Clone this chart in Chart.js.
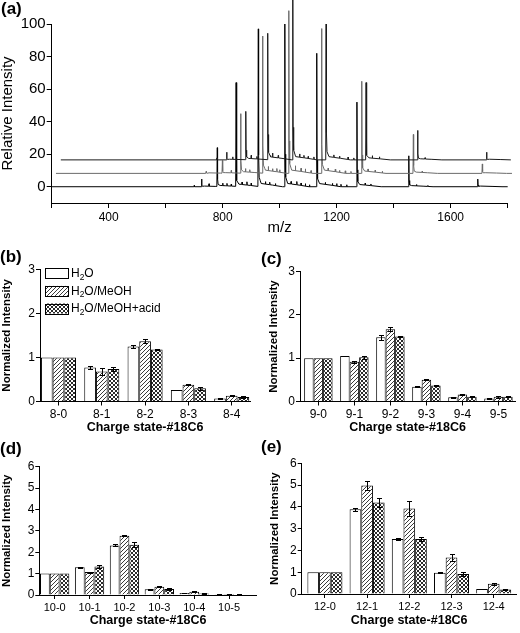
<!DOCTYPE html>
<html><head><meta charset="utf-8">
<script src="https://cdn.jsdelivr.net/npm/chart.js@4.4.1/dist/chart.umd.min.js"></script>
<style>
html,body{margin:0;padding:0;background:#fff;}
body{width:520px;height:633px;position:relative;overflow:hidden;font-family:'Liberation Sans',Arial,sans-serif;}
canvas{position:absolute;}
.pl{position:absolute;font-weight:bold;font-size:17px;line-height:17px;color:#000;font-family:'Liberation Sans',Arial,sans-serif;}
</style></head><body>
<canvas id="ca" width="520" height="240" style="left:0;top:0"></canvas>
<canvas id="cb" width="260" height="202" style="left:0;top:235px"></canvas>
<canvas id="cc" width="260" height="202" style="left:260px;top:235px"></canvas>
<canvas id="cd" width="260" height="196" style="left:0;top:437px"></canvas>
<canvas id="ce" width="260" height="196" style="left:260px;top:437px"></canvas>
<div class="pl" style="left:1px;top:0">(a)</div>
<div class="pl" style="left:0;top:248px">(b)</div>
<div class="pl" style="left:261px;top:250px">(c)</div>
<div class="pl" style="left:0;top:440px">(d)</div>
<div class="pl" style="left:261px;top:438px">(e)</div>
<script>
// ---------- panel (a) data : mass spectra ----------
const mzTicks = [200,400,600,800,1000,1200,1400,1600,1800];
const mzLabeled = [400,800,1200,1600];
const relTicks = [0,20,40,60,80,100];

const bottomSpan = [200,1800];
const bottomOffset = 0;
const bottomPeakMz = [726,781,847,925,1018,1130,1271,1453,1695];
const bottomPeakInt = [4.7,24,64,97,100,82,52,19,4.7];
const bottomMinorMz = [700,752,800,815,830,868,885,900,950,965,985,1040,1060,1075,1090,1105,1160,1185,1200,1215,1235,1300,1320,1480,1520];
const bottomMinorInt = [0.8,1.5,1.5,1.5,1.2,1.5,2,1.5,1.5,1.5,1.2,1.5,2,1.5,1.5,1.2,1.2,1.2,1.5,1.5,1.2,1.2,1.0,0.8,0.6];

const middleSpan = [215,1815];
const middleOffset = 8.2;
const middlePeakMz = [742,799,863,940,1032,1147,1288,1469,1711];
const middlePeakInt = [1.2,7.8,36.7,84.4,100,89,56.6,23.9,5.8];
const middleMinorMz = [830,880,895,960,975,990,1000,1055,1075,1090,1110,1170,1195,1210,1230,1250,1310,1335,1360,1500];
const middleMinorInt = [1.5,2,1.5,2.5,1.5,2,1.5,3,2,2,1.5,1.5,1.5,1.2,1.5,1.2,1.5,1.2,1,0.8];

const topSpan = [232,1831];
const topOffset = 16.5;
const topPeakMz = [814,881,958,1046,1163,1303,1484,1726];
const topPeakInt = [4.7,29.8,77.8,100,83.5,47.5,18.1,4.7];
const topMinorMz = [780,835,900,920,975,995,1070,1085,1100,1120,1190,1210,1240,1260,1325,1350,1510];
const topMinorInt = [1.2,1.5,2,1.5,2.5,1.5,2,1.5,1.2,1.5,1.5,1.2,1.5,1.2,1.5,1.2,0.8];

// ---------- panels (b)-(e) data ----------
const seriesLabels = ['H\u2082O','H\u2082O/MeOH','H\u2082O/MeOH+acid'];

const catsB = ['8-0','8-1','8-2','8-3','8-4'];
const h2oB  = [1,0.77,1.25,0.26,0.07];
const meohB = [1,0.68,1.37,0.38,0.13];
const acidB = [1,0.74,1.18,0.30,0.10];
const h2oErrB  = [0,0.03,0.03,0.01,0.005];
const meohErrB = [0,0.07,0.05,0.01,0.01];
const acidErrB = [0,0.05,0.02,0.04,0.015];

const catsC = ['9-0','9-1','9-2','9-3','9-4','9-5'];
const h2oC  = [1,1.05,1.48,0.34,0.10,0.07];
const meohC = [1,0.92,1.67,0.50,0.16,0.11];
const acidC = [1,1.02,1.50,0.37,0.11,0.11];
const h2oErrC  = [0,0.01,0.05,0.01,0.01,0.01];
const meohErrC = [0,0.02,0.04,0.01,0.01,0.02];
const acidErrC = [0,0.04,0.02,0.01,0.01,0.01];

const catsD = ['10-0','10-1','10-2','10-3','10-4','10-5'];
const h2oD  = [1,1.30,2.32,0.27,0.09,0.03];
const meohD = [1,1.07,2.77,0.39,0.15,0.05];
const acidD = [1,1.33,2.35,0.28,0.07,0.02];
const h2oErrD  = [0,0.02,0.05,0.02,0.01,0.005];
const meohErrD = [0,0.02,0.02,0.02,0.02,0.01];
const acidErrD = [0,0.07,0.12,0.05,0.02,0.005];

const catsE = ['12-0','12-1','12-2','12-3','12-4'];
const h2oE  = [1,3.89,2.53,0.97,0.23];
const meohE = [1,4.98,3.93,1.67,0.47];
const acidE = [1,4.20,2.53,0.92,0.21];
const h2oErrE  = [0,0.07,0.06,0.02,0.02];
const meohErrE = [0,0.20,0.33,0.17,0.04];
const acidErrE = [0,0.20,0.08,0.08,0.04];

// ---------- common setup ----------
const FONT = "'Liberation Sans', Arial, sans-serif";
Chart.defaults.font.family = FONT;
Chart.defaults.color = '#000';
Chart.defaults.animation = false;

// peak outline used to render a spectral line of given apex height
function mainShape(d, h) {
  const t = Math.min(2, 0.02*h + 0.3);
  if (d < -1.5 || d > 85) return 0;
  if (d <= 0) return h*(1 + d/1.5);
  if (d <= 1) return h + (0.2*h - h)*d;
  if (d <= 3) return 0.2*h + (0.06*h - 0.2*h)*(d-1)/2;
  if (d <= 10) return 0.06*h + (t - 0.06*h)*(d-3)/7;
  if (d <= 50) return t + (0.5*t - t)*(d-10)/40;
  return 0.5*t*(85-d)/35;
}
function buildTrace(span, offset, mz, inten, minorMz, minorInt) {
  const keys = new Set([span[0], span[1]]);
  mz.forEach(p => [-1.5,0,1,3,10,50,85].forEach(o => keys.add(p+o)));
  minorMz.forEach(p => [-1,0,1].forEach(o => keys.add(p+o)));
  const xs = [...keys].filter(x => x >= span[0] && x <= span[1]).sort((a,b)=>a-b);
  return xs.map(x => {
    let y = 0;
    mz.forEach((p,i) => { y = Math.max(y, mainShape(x-p, inten[i])); });
    minorMz.forEach((p,i) => { const d = Math.abs(x-p); if (d < 1) y += minorInt[i]*(1-d); });
    return {x, y: y + offset};
  });
}

function axisGrid(len) {
  return { display:true, drawOnChartArea:false, drawTicks:true, tickLength:len, tickColor:'#000', tickWidth:1 };
}
const axisBorder = { display:true, color:'#000', width:1 };

// ---------- panel (a) ----------
new Chart(document.getElementById('ca'), {
  type: 'scatter',
  data: { datasets: [
    { data: buildTrace(topSpan, topOffset, topPeakMz, topPeakInt, topMinorMz, topMinorInt), borderColor:'#1a1a1a' },
    { data: buildTrace(middleSpan, middleOffset, middlePeakMz, middlePeakInt, middleMinorMz, middleMinorInt), borderColor:'#6a6a6a' },
    { data: buildTrace(bottomSpan, bottomOffset, bottomPeakMz, bottomPeakInt, bottomMinorMz, bottomMinorInt), borderColor:'#000' }
  ].map(d => Object.assign(d, { showLine:true, pointRadius:0, borderWidth:1, tension:0, clip:false })) },
  options: {
    responsive:false, devicePixelRatio:1,
    layout: { padding: { left:0, right:12.3, top:24, bottom:0 } },
    plugins: { legend:{display:false}, tooltip:{enabled:false} },
    scales: {
      x: { type:'linear', min:200, max:1800,
        afterBuildTicks: s => { s.ticks = mzTicks.map(v => ({value:v})); },
        afterFit: s => { s.height = 37; },
        ticks: { autoSkip:false, maxRotation:0, minRotation:0, padding:2, font:{size:12},
          callback: v => mzLabeled.includes(v) ? String(v) : '' },
        grid: axisGrid(5), border: axisBorder,
        title: { display:true, text:'m/z', font:{size:15}, padding:{top:0, bottom:3} } },
      y: { type:'linear', min:-10, max:100,
        afterBuildTicks: s => { s.ticks = relTicks.map(v => ({value:v})); },
        afterFit: s => { s.width = 51.7; },
        ticks: { padding:1, font:{size:15} },
        grid: axisGrid(5), border: axisBorder,
        title: { display:true, text:'Relative Intensity', font:{size:15, lineHeight:1}, padding:{top:0, bottom:0} } }
    }
  }
});

// ---------- fill patterns ----------
function makePattern(draw) {
  const c = document.createElement('canvas'); c.width = 4; c.height = 4;
  const g = c.getContext('2d');
  g.fillStyle = '#fff'; g.fillRect(0,0,4,4);
  draw(g);
  return g.createPattern(c, 'repeat');
}
const pc = document.createElement('canvas').getContext('2d');
const hatchFill = (function(){
  const c = document.createElement('canvas'); c.width=4; c.height=4;
  const g = c.getContext('2d'); g.fillStyle='#fff'; g.fillRect(0,0,4,4);
  g.fillStyle='#3a3a3a'; for (let i=0;i<4;i++) g.fillRect(i,3-i,1,1);
  return pc.createPattern(c,'repeat');
})();
const crossFill = (function(){
  const c = document.createElement('canvas'); c.width=4; c.height=4;
  const g = c.getContext('2d'); g.fillStyle='#fff'; g.fillRect(0,0,4,4);
  g.fillStyle='#2a2a2a'; for (let i=0;i<4;i++){ g.fillRect(i,i,1,1); g.fillRect(i,3-i,1,1); }
  return pc.createPattern(c,'repeat');
})();
const fills = ['#fff', hatchFill, crossFill];

// ---------- error bars & legend plugins ----------
const errorBarPlugin = {
  id:'errorBars',
  afterDatasetsDraw(chart) {
    const ctx = chart.ctx, ys = chart.scales.y;
    ctx.save(); ctx.strokeStyle = '#000'; ctx.lineWidth = 1;
    chart.data.datasets.forEach((ds,k) => {
      const meta = chart.getDatasetMeta(k);
      meta.data.forEach((bar,i) => {
        const e = ds.errs[i]; if (!e) return;
        const v = ds.data[i].y;
        const x = Math.round(bar.x) + 0.5;
        const y1 = Math.round(ys.getPixelForValue(v+e)) + 0.5;
        const y2 = Math.round(ys.getPixelForValue(v-e)) + 0.5;
        ctx.beginPath();
        ctx.moveTo(x, y1); ctx.lineTo(x, y2);
        ctx.moveTo(x-2.5, y1); ctx.lineTo(x+2.5, y1);
        ctx.moveTo(x-2.5, y2); ctx.lineTo(x+2.5, y2);
        ctx.stroke();
      });
    });
    ctx.restore();
  }
};
function drawRich(ctx, text, x, y, size) {
  let cx = x;
  for (const ch of text) {
    if (ch === '\u2082') {
      ctx.font = (size*0.7) + 'px ' + FONT;
      ctx.fillText('2', cx, y + size*0.3);
      cx += ctx.measureText('2').width;
    } else {
      ctx.font = size + 'px ' + FONT;
      ctx.fillText(ch, cx, y);
      cx += ctx.measureText(ch).width;
    }
  }
}
const legendPlugin = {
  id:'boxLegend',
  afterDraw(chart) {
    const o = chart.options.plugins.boxLegend;
    if (!o || !o.show) return;
    const ctx = chart.ctx;
    ctx.save();
    seriesLabels.forEach((lab,k) => {
      const top = o.y + k*o.step;
      ctx.fillStyle = fills[k];
      ctx.fillRect(o.x, top, o.w, o.h);
      ctx.strokeStyle = '#000'; ctx.lineWidth = 1;
      ctx.strokeRect(Math.round(o.x)+0.5, Math.round(top)+0.5, o.w, o.h);
      ctx.fillStyle = '#000'; ctx.textBaseline = 'middle';
      drawRich(ctx, lab, o.x + o.w + 3, top + o.h/2 + 0.5, 12);
    });
    ctx.restore();
  }
};

function barChart(id, cats, series, errs, L) {
  return new Chart(document.getElementById(id), {
    type:'bar',
    data: { datasets: series.map((vals,k) => ({
      label: seriesLabels[k],
      data: vals.map((v,i) => ({x:i+1, y:v})),
      errs: errs[k],
      backgroundColor: fills[k], borderColor:'#000', borderWidth:1,
      categoryPercentage: L.frac, barPercentage: 1
    })) },
    plugins: [errorBarPlugin, legendPlugin],
    options: {
      responsive:false, devicePixelRatio:1,
      layout: { padding: { left:0, right:L.padRight, top:L.padTop, bottom:0 } },
      plugins: { legend:{display:false}, tooltip:{enabled:false}, boxLegend: L.legend || {show:false} },
      scales: {
        x: { type:'linear', min:L.xMin, max:L.xMax, offset:false,
          afterBuildTicks: s => { s.ticks = cats.map((c,i) => ({value:i+1})); },
          afterFit: s => { s.height = L.xHeight; },
          ticks: { autoSkip:false, maxRotation:0, minRotation:0, padding:L.xTickPad, font:{size:L.xLabelSize},
            callback: v => cats[v-1] !== undefined ? cats[v-1] : '' },
          grid: Object.assign(axisGrid(4), {offset:false}), border: axisBorder,
          title: { display:true, text:'Charge state-#18C6', font:{size:12.5, weight:'bold'}, padding:{top:0, bottom:L.xTitlePad} } },
        y: { type:'linear', min:0, max:L.yMax, beginAtZero:true,
          afterFit: s => { s.width = L.yWidth; },
          ticks: { stepSize:1, padding:1, font:{size:12} },
          grid: axisGrid(4), border: axisBorder,
          title: { display:true, text:'Normalized Intensity', font:{size:11.5, weight:'bold'}, padding:{top:L.yTitlePad, bottom:0} } }
      }
    }
  });
}

barChart('cb', catsB, [h2oB, meohB, acidB], [h2oErrB, meohErrB, acidErrB],
  { xMin:0.573, xMax:5.423, yMax:3, frac:0.81, yWidth:40, xHeight:35.5, padTop:34.3, padRight:10,
    xTickPad:2, xLabelSize:12, xTitlePad:1.5, yTitlePad:0.1,
    legend:{ show:true, x:45, y:33.3, w:23, h:10, step:17.6 } });
barChart('cc', catsC, [h2oC, meohC, acidC], [h2oErrC, meohErrC, acidErrC],
  { xMin:0.49, xMax:6.46, yMax:3, frac:0.79, yWidth:40, xHeight:35.5, padTop:36.5, padRight:5,
    xTickPad:2, xLabelSize:12, xTitlePad:1.5, yTitlePad:6.9 });
barChart('cd', catsD, [h2oD, meohD, acidD], [h2oErrD, meohErrD, acidErrD],
  { xMin:0.56, xMax:6.79, yMax:6, frac:0.84, yWidth:39.3, xHeight:38, padTop:29.7, padRight:3.3,
    xTickPad:2, xLabelSize:11, xTitlePad:4.5, yTitlePad:0.3 });
barChart('ce', catsE, [h2oE, meohE, acidE], [h2oErrE, meohErrE, acidErrE],
  { xMin:0.45, xMax:5.545, yMax:6, frac:0.83, yWidth:41.7, xHeight:39, padTop:26.3, padRight:3.3,
    xTickPad:2, xLabelSize:11, xTitlePad:4.5, yTitlePad:8.1 });
</script>
</body></html>
